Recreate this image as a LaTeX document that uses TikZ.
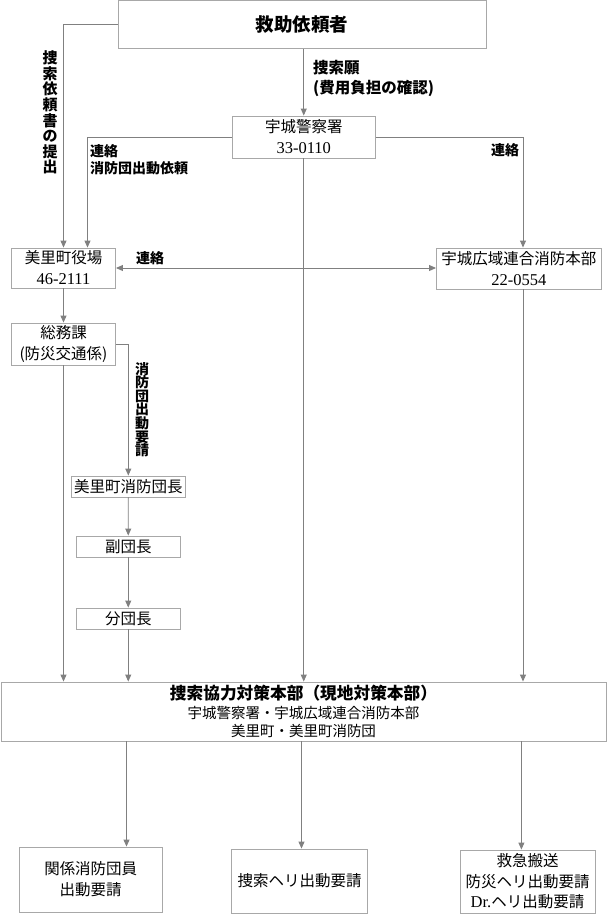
\documentclass[tikz,border=0pt]{standalone}
\usepackage{fontspec}
\setmainfont{Noto Sans CJK JP}
\newfontfamily\numf{Liberation Serif}
\newcommand{\numtext}[1]{{\numf\fontsize{16.5}{21}\selectfont #1}}
\usetikzlibrary{arrows.meta}
\definecolor{linegray}{HTML}{808080}
\definecolor{boxgray}{HTML}{A8A8A8}
\tikzset{
  box/.style={draw=boxgray, line width=0.9pt, inner sep=0pt, align=center,
    font=\fontsize{15.5}{21}\selectfont},
  arr/.style={draw=linegray, line width=0.9pt, -{Triangle[width=6pt,length=7pt]}},
  darr/.style={draw=linegray, line width=0.9pt, {Triangle[width=6pt,length=7pt]}-{Triangle[width=6pt,length=7pt]}},
  lbl/.style={inner sep=0pt, align=left, font=\bfseries\fontsize{14}{17}\selectfont},
  vlbl/.style={inner sep=0pt, align=center},
}
\begin{document}
\begin{tikzpicture}[x=1pt,y=-1pt]
\useasboundingbox (0,0) rectangle (610,914);
% boxes
\node[box, minimum width=368pt, minimum height=48pt, font=\bfseries\fontsize{18.5}{22}\selectfont] (top) at (302,24.5) {救助依頼者};
\node[box, minimum width=143pt, minimum height=42pt] (police) at (303.75,137) {宇城警察署\\\numtext{33-0110}};
\node[box, minimum width=104pt, minimum height=40pt] (yakuba) at (63.5,268) {美里町役場\\\numtext{46-2111}};
\node[box, minimum width=164.5pt, minimum height=41pt] (shobo) at (518.75,268.5) {宇城広域連合消防本部\\\numtext{22-0554}};
\node[box, minimum width=104pt, minimum height=42pt] (somu) at (63.5,344) {総務課\\(防災交通係)};
\node[box, minimum width=114.6pt, minimum height=21pt] (danchou) at (128.3,486.5) {美里町消防団長};
\node[box, minimum width=104.5pt, minimum height=21pt] (fuku) at (128.25,546.5) {副団長};
\node[box, minimum width=104.5pt, minimum height=21pt] (bun) at (128.25,618.5) {分団長};
\node[box, minimum width=605pt, minimum height=59pt, font=\fontsize{14.5}{18.5}\selectfont] (honbu) at (303.5,711.5)
  {{\bfseries\fontsize{16.7}{18.5}\selectfont 捜索協力対策本部（現地対策本部）}\\宇城警察署・宇城広域連合消防本部\\美里町・美里町消防団};
\node[box, minimum width=142.5pt, minimum height=65pt] (b1) at (90.75,879.5) {関係消防団員\\出動要請};
\node[box, minimum width=136pt, minimum height=64pt] (b2) at (299.6,881) {捜索ヘリ出動要請};
\node[box, minimum width=135pt, minimum height=63pt, font=\fontsize{15.5}{20.5}\selectfont] (b3) at (527.5,881.5) {救急搬送\\防災ヘリ出動要請\\\numtext{Dr.}ヘリ出動要請};
% helper coordinates
\coordinate (t1) at (126.5,0);
\coordinate (t2) at (301.5,0);
\coordinate (t3) at (521.4,0);
% connectors
\draw[arr] (top.west) -| (yakuba.north);
\draw[arr] (police.north |- top.south) -- (police.north);
\draw[arr] (police.west) -| ([xshift=24pt]yakuba.north);
\draw[arr] (police.east) -| ([xshift=4.25pt]shobo.north);
\draw[arr] (police.south) -- (police.south |- honbu.north);
\draw[darr] (yakuba.east) -- (yakuba.east -| shobo.west);
\draw[arr] (yakuba.south) -- (somu.north);
\draw[arr] (somu.east) -| (danchou.north);
\draw[arr] (somu.south) -- (somu.south |- honbu.north);
\draw[arr] (danchou.south) -- (fuku.north);
\draw[arr] (fuku.south) -- (bun.north);
\draw[arr] (bun.south) -- (bun.south |- honbu.north);
\draw[arr] ([xshift=4.25pt]shobo.south) -- ([xshift=4.25pt]shobo.south |- honbu.north);
\draw[arr] (honbu.south -| t1) -- (b1.north -| t1);
\draw[arr] (honbu.south -| t2) -- (b2.north -| t2);
\draw[arr] (honbu.south -| t3) -- (b3.north -| t3);
% labels
\node[vlbl, font=\bfseries\fontsize{15}{15.6}\selectfont] (l1) at (50,112.5) {捜\\索\\依\\頼\\書\\の\\提\\出};
\node[lbl, anchor=north west, font=\bfseries\fontsize{15.5}{20}\selectfont] (l2) at (313,60) {捜索願\\(費用負担の確認)};
\node[lbl, anchor=north west] (l3) at (90,144) {連絡\\消防団出動依頼};
\node[lbl, anchor=west] (l4) at (491,150) {連絡};
\node[lbl, anchor=west] (l5) at (136,258) {連絡};
\node[vlbl, font=\bfseries\fontsize{14}{13.6}\selectfont] (l6) at (142,409.5) {消\\防\\団\\出\\動\\要\\請};
\end{tikzpicture}
\end{document}
